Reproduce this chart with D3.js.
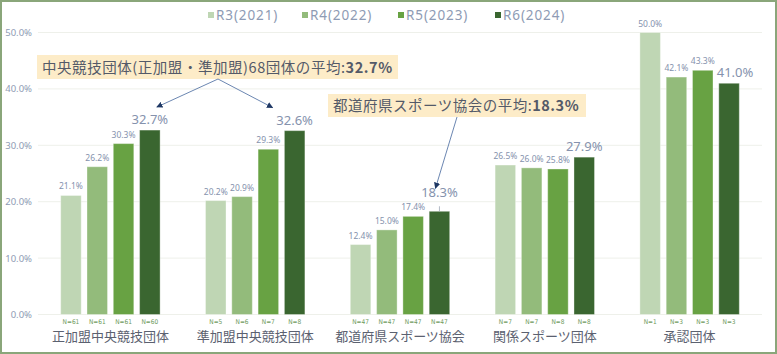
<!DOCTYPE html>
<html><head><meta charset="utf-8">
<script src="https://cdn.jsdelivr.net/npm/d3@7"></script>
<style>
html,body{margin:0;padding:0;background:#fff;}
svg{display:block;font-family:"Noto Sans CJK JP","Noto Sans",sans-serif;}
</style></head>
<body><svg id="chart" width="777" height="354"></svg>
<script>
const categories = ["正加盟中央競技団体","準加盟中央競技団体","都道府県スポーツ協会","関係スポーツ団体","承認団体"];
const seriesNames = ["R3(2021)","R4(2022)","R5(2023)","R6(2024)"];
const seriesColors = ["#bfd6b4","#93bb7b","#68a243","#3a6630"];
const r3 = [21.1, 20.2, 12.4, 26.5, 50.0];
const r4 = [26.2, 20.9, 15.0, 26.0, 42.1];
const r5 = [30.3, 29.3, 17.4, 25.8, 43.3];
const r6 = [32.7, 32.6, 18.3, 27.9, 41.0];
const nR3 = [61, 5, 47, 7, 1];
const nR4 = [61, 6, 47, 7, 3];
const nR5 = [61, 7, 47, 8, 3];
const nR6 = [60, 8, 47, 8, 3];
const yTicks = [0, 10, 20, 30, 40, 50];
const note1 = ["中央競技団体(正加盟・準加盟)68団体の平均:", "32.7%"];
const note2 = ["都道府県スポーツ協会の平均:", "18.3%"];

const values = [r3, r4, r5, r6];
const ns = [nR3, nR4, nR5, nR6];

const svg = d3.select("#chart");
svg.append("rect").attr("x",1).attr("y",1).attr("width",775).attr("height",352)
  .attr("fill","#fff").attr("stroke","#8aa67a").attr("stroke-width",2);

const plotL = 38, plotR = 762, plotT = 32.5, plotB = 314.5;
const y = d3.scaleLinear().domain([0,50]).range([plotB, plotT]);
const x0 = d3.scaleBand().domain(categories).range([plotL, plotR]).padding(0);
const x1 = d3.scaleBand().domain(seriesNames).range([-49.7, 49.7]).paddingInner(0.22).paddingOuter(0);

svg.append("g").selectAll("line").data(yTicks).join("line")
  .attr("x1", plotL).attr("x2", plotR)
  .attr("y1", d => y(d)).attr("y2", d => y(d))
  .attr("stroke", "#eef0ea").attr("stroke-width", 1);

const yAxis = d3.axisLeft(y).tickValues(yTicks).tickFormat(d => d.toFixed(1) + "%").tickSize(0).tickPadding(6);
const yg = svg.append("g").attr("transform", `translate(${plotL},0)`).call(yAxis);
yg.select(".domain").remove();
yg.selectAll("text").attr("fill","#8e9bb4").style("font-size","9.5px").style("font-family","'Noto Sans',sans-serif");

const groups = svg.append("g").selectAll("g").data(categories).join("g")
  .attr("transform", c => `translate(${x0(c) + x0.bandwidth()/2},0)`);

// label adjustments (annotation placement, in px)
const labelDx = (ci, si) => (ci === 4 && si === 3) ? 6 : 0;
const labelDy = (ci, si) => (ci === 2 && si === 3) ? -8 : 0;

groups.each(function(c, ci) {
  const g = d3.select(this);
  seriesNames.forEach((s, si) => {
    const v = values[si][ci];
    const bx = x1(s), bw = x1.bandwidth();
    g.append("rect").attr("x", bx).attr("y", y(v)).attr("width", bw).attr("height", y(0) - y(v))
      .attr("fill", seriesColors[si]).attr("stroke", "#ffffff").attr("stroke-opacity",0.35).attr("stroke-width",1);
    const big = si === 3;
    g.append("text").attr("x", bx + bw/2 + labelDx(ci, si)).attr("y", y(v) - 6 + labelDy(ci, si))
      .attr("text-anchor","middle").attr("fill","#8592ad")
      .style("font-size", big ? "13px" : "8.5px")
      .style("font-family","'Noto Sans',sans-serif")
      .text(v.toFixed(1) + "%");
    g.append("text").attr("x", bx + bw/2).attr("y", plotB + 9)
      .attr("text-anchor","middle").attr("fill","#6e9a5c")
      .style("font-size","6.5px").style("font-family","'DejaVu Sans Condensed','Liberation Sans Narrow',sans-serif")
      .text("N=" + ns[si][ci]);
  });
});

svg.append("g").selectAll("text").data(categories).join("text")
  .attr("x", c => x0(c) + x0.bandwidth()/2).attr("y", 341)
  .attr("text-anchor","middle").attr("fill","#5b6170").style("font-size","13px")
  .text(c => c);

const legendX = [208, 302, 398, 495];
const lg = svg.append("g");
seriesNames.forEach((s, i) => {
  lg.append("rect").attr("x", legendX[i]).attr("y", 12).attr("width", 6).attr("height", 6).attr("fill", seriesColors[i]);
  lg.append("text").attr("x", legendX[i] + 8).attr("y", 20).attr("fill","#8e9bb4")
    .style("font-size","13.5px").style("letter-spacing","0.9px").style("font-family","'Noto Sans',sans-serif").text(s);
});

const defs = svg.append("defs");
defs.append("marker").attr("id","arr").attr("viewBox","0 0 10 10").attr("refX",9).attr("refY",5)
  .attr("markerWidth",7).attr("markerHeight",7).attr("orient","auto")
  .append("path").attr("d","M0,0L10,5L0,10z").attr("fill","#1f3864");

function barTop(ci, si) {
  const c = categories[ci], s = seriesNames[si];
  return [x0(c) + x0.bandwidth()/2 + x1(s) + x1.bandwidth()/2, y(values[si][ci])];
}

const a1 = svg.append("g");
a1.append("rect").attr("x",37).attr("y",55).attr("width",361).attr("height",24).attr("fill","#fdecc8");
const t1 = a1.append("text").attr("x",42).attr("y",73).attr("fill","#545a68").style("font-size","14.5px").style("letter-spacing","0.55px");
t1.append("tspan").text(note1[0]);
t1.append("tspan").attr("font-weight","bold").text(note1[1]);
const p1 = barTop(0,3), p2 = barTop(1,3);
a1.append("line").attr("x1",218).attr("y1",79).attr("x2",p1[0]+7).attr("y2",p1[1]-23)
  .attr("stroke","#5a78a8").attr("stroke-width",0.9).attr("marker-end","url(#arr)");
a1.append("line").attr("x1",218).attr("y1",79).attr("x2",p2[0]-22).attr("y2",p2[1]-23)
  .attr("stroke","#5a78a8").attr("stroke-width",0.9).attr("marker-end","url(#arr)");

const a2 = svg.append("g");
a2.append("rect").attr("x",328).attr("y",94).attr("width",258).attr("height",23).attr("fill","#fdecc8");
const t2 = a2.append("text").attr("x",333).attr("y",111).attr("fill","#545a68").style("font-size","14.5px").style("letter-spacing","0.5px");
t2.append("tspan").text(note2[0]);
t2.append("tspan").attr("font-weight","bold").text(note2[1]);
const p3 = barTop(2,3);
a2.append("line").attr("x1",457).attr("y1",117).attr("x2",p3[0]-4).attr("y2",p3[1]-23)
  .attr("stroke","#5a78a8").attr("stroke-width",0.9).attr("marker-end","url(#arr)");
a2.append("line").attr("x1",p3[0]).attr("y1",p3[1]-5).attr("x2",p3[0]).attr("y2",p3[1])
  .attr("stroke","#a0a8b8").attr("stroke-width",0.8);
</script></body></html>
